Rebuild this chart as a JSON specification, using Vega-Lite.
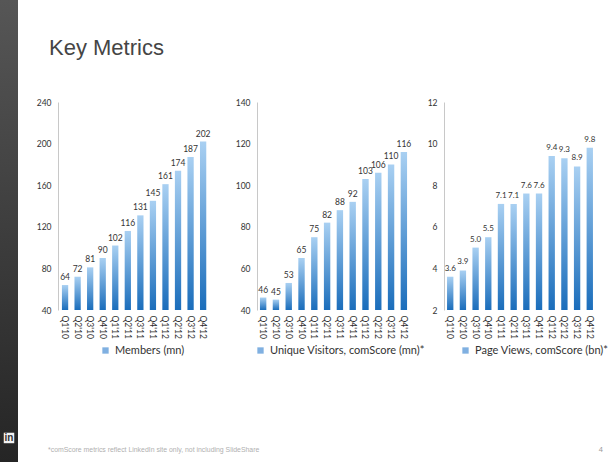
{
  "$schema": "https://vega.github.io/schema/vega-lite/v6.json",
  "padding": 0,
  "spacing": 18,
  "background": "white",
  "config": {
    "view": {"stroke": null},
    "font": "Lato",
    "axis": {"labelFont": "Lato", "labelColor": "#333", "labelFontSize": 8.5, "ticks": false, "grid": false, "title": null},
    "legend": {"title": null, "symbolType": "square", "symbolSize": 40, "labelFont": "Lato", "labelFontSize": 11, "labelColor": "#333", "symbolStrokeWidth": 0, "direction": "horizontal"}
  },
  "datasets": {
    "members": [
      {"q": "Q1'10", "v": 64}, {"q": "Q2'10", "v": 72}, {"q": "Q3'10", "v": 81}, {"q": "Q4'10", "v": 90},
      {"q": "Q1'11", "v": 102}, {"q": "Q2'11", "v": 116}, {"q": "Q3'11", "v": 131}, {"q": "Q4'11", "v": 145},
      {"q": "Q1'12", "v": 161}, {"q": "Q2'12", "v": 174}, {"q": "Q3'12", "v": 187}, {"q": "Q4'12", "v": 202}
    ],
    "visitors": [
      {"q": "Q1'10", "v": 46}, {"q": "Q2'10", "v": 45}, {"q": "Q3'10", "v": 53}, {"q": "Q4'10", "v": 65},
      {"q": "Q1'11", "v": 75}, {"q": "Q2'11", "v": 82}, {"q": "Q3'11", "v": 88}, {"q": "Q4'11", "v": 92},
      {"q": "Q1'12", "v": 103}, {"q": "Q2'12", "v": 106}, {"q": "Q3'12", "v": 110}, {"q": "Q4'12", "v": 116}
    ],
    "views": [
      {"q": "Q1'10", "v": 3.6}, {"q": "Q2'10", "v": 3.9}, {"q": "Q3'10", "v": 5.0}, {"q": "Q4'10", "v": 5.5},
      {"q": "Q1'11", "v": 7.1}, {"q": "Q2'11", "v": 7.1}, {"q": "Q3'11", "v": 7.6}, {"q": "Q4'11", "v": 7.6},
      {"q": "Q1'12", "v": 9.4}, {"q": "Q2'12", "v": 9.3}, {"q": "Q3'12", "v": 8.9}, {"q": "Q4'12", "v": 9.8}
    ],
    "head": [{"t": "Key Metrics"}],
    "foot": [
      {"pos": "l", "t": "*comScore metrics reflect LinkedIn site only, not including SlideShare"},
      {"pos": "r", "t": "4"}
    ],
    "strip": [{"t": "in", "p": 0.052}]
  },
  "hconcat": [
    {
      "width": 18,
      "height": 462,
      "view": {"fill": {"gradient": "linear", "x1": 0, "y1": 0, "x2": 0, "y2": 1, "stops": [{"offset": 0, "color": "#565656"}, {"offset": 1, "color": "#252525"}]}, "stroke": null},
      "data": {"name": "strip"},
      "encoding": {"y": {"field": "p", "type": "quantitative", "scale": {"domain": [0, 1]}, "axis": null}},
      "layer": [
        {"mark": {"type": "square", "filled": true, "color": "#f2f2f2", "size": 110, "opacity": 1}},
        {"mark": {"type": "text", "color": "#333", "fontSize": 10, "fontWeight": "bold", "font": "Liberation Sans", "dy": 0.5}, "encoding": {"text": {"field": "t"}}}
      ]
    },
    {
      "spacing": 0,
      "vconcat": [
        {
          "width": 545, "height": 98,
          "data": {"name": "head"},
          "mark": {"type": "text", "font": "Liberation Sans", "fontSize": 22, "color": "#454545", "align": "left", "dx": -9, "dy": -1},
          "encoding": {
            "x": {"datum": 0, "type": "quantitative", "scale": {"domain": [0, 1]}, "axis": null},
            "text": {"field": "t"}
          }
        },
        {
          "spacing": 34,
          "bounds": "flush",
          "resolve": {"scale": {"color": "independent", "y": "independent", "x": "independent"}, "legend": {"color": "independent"}},
          "hconcat": [
            {
              "width": 165, "height": 208,
              "data": {"name": "members"},
              "encoding": {
                "x": {"field": "q", "type": "ordinal", "sort": null, "scale": {"paddingInner": 0.5, "paddingOuter": 0.823, "align": 0.19}, "axis": {"labelAngle": 90, "domain": false, "labelPadding": 5}},
                "y": {"field": "v", "type": "quantitative", "scale": {"domain": [40, 240], "zero": false}, "axis": {"values": [40, 80, 120, 160, 200, 240], "domainColor": "#c8c8c8", "labelPadding": 7}}
              },
              "layer": [
                {"mark": {"type": "bar", "color": {"gradient": "linear", "x1": 0, "y1": 0, "x2": 0, "y2": 1, "stops": [{"offset": 0, "color": "#a9d0f2"}, {"offset": 1, "color": "#1a6dbb"}]}}, "encoding": {"y2": {"datum": 40}}},
                {"transform": [{"filter": "false"}], "mark": {"type": "square"}, "encoding": {"color": {"datum": "Members (mn)", "scale": {"range": ["#4a8fd4"]}, "legend": {"orient": "none", "legendX": 42, "legendY": 243}}}},
                {"mark": {"type": "text", "dy": -8, "fontSize": 8.5, "color": "#333"}, "encoding": {"text": {"field": "v", "type": "quantitative"}}}
              ]
            },
            {
              "width": 153, "height": 208,
              "data": {"name": "visitors"},
              "encoding": {
                "x": {"field": "q", "type": "ordinal", "sort": null, "scale": {"paddingInner": 0.5, "paddingOuter": 0.23}, "axis": {"labelAngle": 90, "domain": false, "labelPadding": 5}},
                "y": {"field": "v", "type": "quantitative", "scale": {"domain": [40, 140], "zero": false}, "axis": {"values": [40, 60, 80, 100, 120, 140], "domainColor": "#c8c8c8", "labelPadding": 7}}
              },
              "layer": [
                {"mark": {"type": "bar", "color": {"gradient": "linear", "x1": 0, "y1": 0, "x2": 0, "y2": 1, "stops": [{"offset": 0, "color": "#a9d0f2"}, {"offset": 1, "color": "#1a6dbb"}]}}, "encoding": {"y2": {"datum": 40}}},
                {"transform": [{"filter": "false"}], "mark": {"type": "square"}, "encoding": {"color": {"datum": "Unique Visitors, comScore (mn)*", "scale": {"range": ["#4a8fd4"]}, "legend": {"orient": "none", "legendX": -2, "legendY": 243}}}},
                {"mark": {"type": "text", "dy": -8, "fontSize": 8.5, "color": "#333"}, "encoding": {"text": {"field": "v", "type": "quantitative"}}}
              ]
            },
            {
              "width": 152, "height": 208,
              "data": {"name": "views"},
              "encoding": {
                "x": {"field": "q", "type": "ordinal", "sort": null, "scale": {"paddingInner": 0.5, "paddingOuter": 0.24}, "axis": {"labelAngle": 90, "domain": false, "labelPadding": 5}},
                "y": {"field": "v", "type": "quantitative", "scale": {"domain": [2, 12], "zero": false}, "axis": {"values": [2, 4, 6, 8, 10, 12], "format": "d", "domainColor": "#c8c8c8", "labelPadding": 7}}
              },
              "layer": [
                {"mark": {"type": "bar", "color": {"gradient": "linear", "x1": 0, "y1": 0, "x2": 0, "y2": 1, "stops": [{"offset": 0, "color": "#a9d0f2"}, {"offset": 1, "color": "#1a6dbb"}]}}, "encoding": {"y2": {"datum": 2}}},
                {"transform": [{"filter": "false"}], "mark": {"type": "square"}, "encoding": {"color": {"datum": "Page Views, comScore (bn)*", "scale": {"range": ["#4a8fd4"]}, "legend": {"orient": "none", "legendX": 16, "legendY": 243}}}},
                {"mark": {"type": "text", "dy": -8, "fontSize": 8, "color": "#333"}, "encoding": {"text": {"field": "v", "type": "quantitative", "format": ".1f"}}}
              ]
            }
          ]
        },
        {
          "width": 545, "height": 100,
          "data": {"name": "foot"},
          "encoding": {
            "x": {"field": "pos", "type": "nominal", "scale": {"type": "point", "domain": ["l", "r"], "padding": 0}, "axis": null},
            "text": {"field": "t"}
          },
          "layer": [
            {"transform": [{"filter": "datum.pos === 'l'"}], "mark": {"type": "text", "fontSize": 6.9, "color": "#b0b0b0", "font": "Liberation Sans", "dy": 44, "align": "left", "dx": -10}},
            {"transform": [{"filter": "datum.pos === 'r'"}], "mark": {"type": "text", "fontSize": 7.5, "color": "#9a9a9a", "font": "Liberation Sans", "dy": 44, "align": "right"}}
          ]
        }
      ]
    }
  ]
}
